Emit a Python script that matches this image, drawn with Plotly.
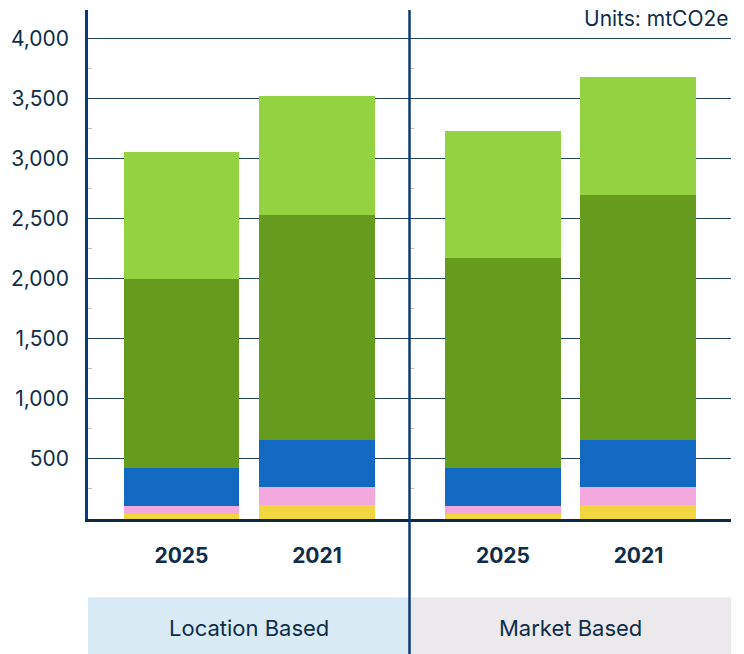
import plotly.graph_objects as go
from plotly.subplots import make_subplots

years = ["2025", "2021"]
panels = ["Location Based", "Market Based"]
series_names = ["Segment 1", "Segment 2", "Segment 3", "Segment 4", "Segment 5"]
series_colors = ["#f2d640", "#f3a8de", "#1169c2", "#659c1d", "#93d241"]
location_values = [
    [45, 114],
    [60, 150],
    [320, 392],
    [1575, 1875],
    [1056, 991],
]
market_values = [
    [45, 114],
    [60, 150],
    [320, 392],
    [1753, 2041],
    [1053, 989],
]
y_ticks = [500, 1000, 1500, 2000, 2500, 3000, 3500, 4000]
y_tick_text = ["500", "1,000", "1,500", "2,000", "2,500", "3,000", "3,500", "4,000"]
units_text = "Units: mtCO2e"

TXT = "#0f2d4a"
NAVY = "#0b3a78"
FONT = "Inter, Roboto, sans-serif"

fig = make_subplots(rows=1, cols=2, shared_yaxes=True, horizontal_spacing=0)
for i, name in enumerate(series_names):
    fig.add_trace(go.Bar(x=years, y=location_values[i], name=name,
                         marker=dict(color=series_colors[i], line=dict(width=0)),
                         showlegend=False), row=1, col=1)
    fig.add_trace(go.Bar(x=years, y=market_values[i], name=name,
                         marker=dict(color=series_colors[i], line=dict(width=0)),
                         showlegend=False), row=1, col=2)

fig.update_layout(
    barmode="stack", bargap=0.144,
    width=744, height=654,
    margin=dict(l=88, r=13, t=10, b=135),
    plot_bgcolor="white", paper_bgcolor="white",
    font=dict(family=FONT, color=TXT),
)

xcommon = dict(range=[-0.69, 1.683], showgrid=False, zeroline=False,
               showline=True, linecolor="#0d2b45", linewidth=3,
               ticks="", tickfont=dict(family=FONT, size=21, color=TXT, weight=700),
               ticklabelstandoff=16, fixedrange=True)
fig.update_xaxes(**xcommon)
fig.update_layout(xaxis=dict(domain=[0, 0.5]), xaxis2=dict(domain=[0.5, 1]))

fig.update_yaxes(range=[0, 4240], tickvals=y_ticks, ticktext=y_tick_text,
                 showgrid=True, gridcolor="#22425e", gridwidth=1.3,
                 zeroline=False, ticks="", fixedrange=True,
                 minor=dict(tickvals=[250, 750, 1250, 1750, 2250, 2750, 3250, 3750],
                            ticks="inside", ticklen=4, tickcolor="#b8c4d0", showgrid=False))
fig.update_layout(yaxis=dict(showline=True, linecolor=NAVY, linewidth=2.5,
                             tickfont=dict(family=FONT, size=21, color=TXT),
                             ticklabelstandoff=12),
                  yaxis2=dict(showline=False, showticklabels=False))

band_top = -(597 - 518.7) / 508.7
band_bot = -(654 - 518.7) / 508.7
band_colors = ["#d8ebf5", "#ebe9ec"]
for j, label in enumerate(panels):
    x0, x1 = j * 0.5, (j + 1) * 0.5
    fig.add_shape(type="rect", xref="paper", yref="paper", x0=x0, x1=x1,
                  y0=band_bot, y1=band_top, fillcolor=band_colors[j],
                  line=dict(width=0), layer="below")
    fig.add_annotation(xref="paper", yref="paper", x=(x0 + x1) / 2,
                       y=-(628 - 518.7) / 508.7, text=label, showarrow=False,
                       font=dict(family=FONT, size=22, color=TXT),
                       xanchor="center", yanchor="middle")

fig.add_shape(type="line", xref="paper", yref="paper", x0=0.5, x1=0.5,
              y0=band_bot, y1=1, line=dict(color=NAVY, width=2.5), layer="above")

fig.add_annotation(xref="paper", yref="paper", x=1, y=(518.7 - 18) / 508.7,
                   text=units_text, showarrow=False, xanchor="right", yanchor="middle",
                   font=dict(family=FONT, size=21, color=TXT))

fig.write_html("out.html")
